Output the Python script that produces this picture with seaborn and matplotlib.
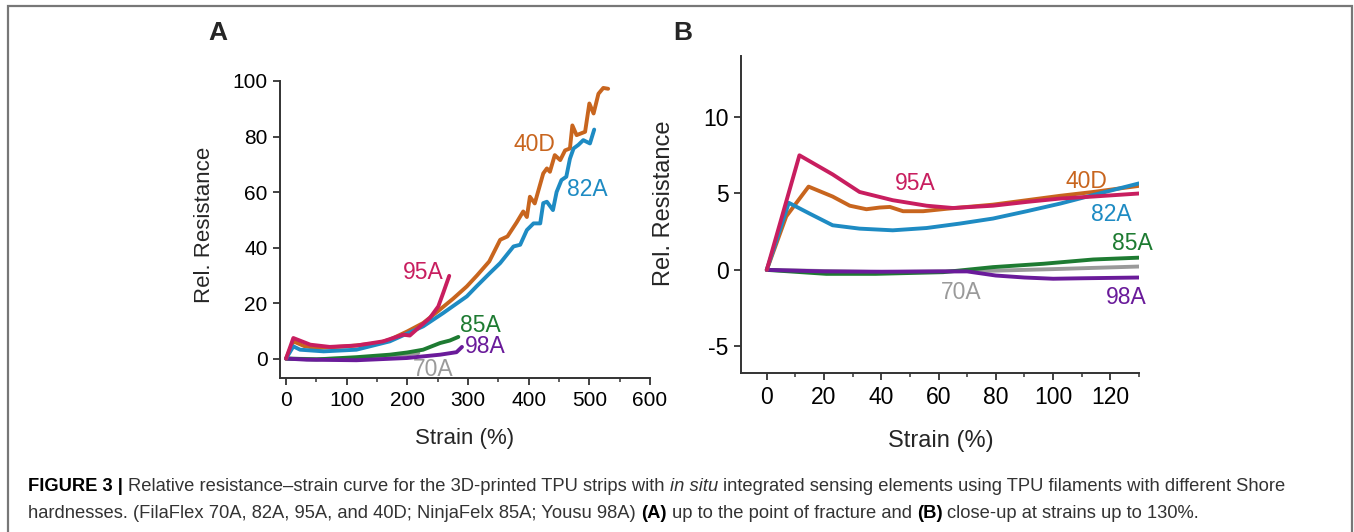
import matplotlib
matplotlib.use("Agg")
import matplotlib.pyplot as plt
from matplotlib.patches import Rectangle
from matplotlib.ticker import MultipleLocator
import seaborn as sns

# ---- panel A: up to fracture ----
a_40d_x = [0, 12, 30, 50, 100, 150, 171, 200, 226, 250, 275, 298, 315, 335, 353, 365, 380, 391, 397, 402, 410, 424, 430, 435, 443, 452, 460, 468, 472, 479, 493, 500, 507, 515, 523, 531]
a_40d_y = [0, 6.2, 4.5, 3.8, 4.4, 5.5, 6.8, 9.8, 12.8, 17, 21.5, 26, 30, 35, 42.8, 44, 49, 53, 51, 58.3, 55.9, 66.7, 68.5, 67.3, 73.3, 71.5, 75, 75.7, 84, 80.5, 81.7, 91.9, 88.3, 95.4, 97.5, 97.2]
a_82a_x = [0, 12, 23, 62, 116, 171, 226, 259, 298, 314, 336, 353, 375, 386, 397, 408, 419, 424, 430, 440, 446, 454, 462, 468, 474, 482, 490, 501, 508]
a_82a_y = [0, 4.4, 3.2, 2.6, 3.2, 6.2, 11.6, 16.4, 22.4, 26, 30.8, 34.4, 40.4, 41, 46.3, 48.7, 48.7, 56, 56.5, 53.5, 60, 64.3, 65.5, 72, 75.7, 77, 78.7, 77.5, 82.5]
a_95a_x = [0, 12, 40, 72, 116, 160, 193, 204, 221, 237, 251, 259, 269]
a_95a_y = [0, 7.4, 5, 4.2, 4.7, 6.2, 8.6, 8.3, 11.6, 14.6, 18.8, 23.6, 29.8]
a_85a_x = [0, 50, 116, 171, 200, 226, 254, 270, 284]
a_85a_y = [0, -0.3, 0.5, 1.4, 2.2, 3.2, 5.6, 6.5, 7.8]
a_98a_x = [0, 34, 116, 199, 254, 281, 290]
a_98a_y = [0, -0.4, -0.6, 0.2, 1.4, 2.3, 4.2]
a_70a_x = [0, 50, 100, 150, 200, 218]
a_70a_y = [0, -0.2, 0, 0.6, 1.5, 2.0]

# ---- panel B: close-up up to 130 % ----
b_95a_x = [0, 11.4, 23, 32.4, 44, 55.8, 65, 79, 90.8, 102.5, 114, 130]
b_95a_y = [0, 7.5, 6.25, 5.1, 4.56, 4.2, 4.05, 4.2, 4.45, 4.67, 4.8, 5.0]
b_40d_x = [0, 6.8, 14.6, 23, 29, 34.8, 39.4, 43, 47.6, 54.6, 62.8, 79, 90.8, 102.5, 114, 130]
b_40d_y = [0, 3.5, 5.45, 4.8, 4.2, 3.97, 4.08, 4.12, 3.84, 3.84, 4.0, 4.27, 4.56, 4.85, 5.1, 5.5]
b_82a_x = [0, 7.7, 15, 23, 32.4, 44, 55.8, 67.4, 79, 90.8, 102.5, 114, 130]
b_82a_y = [0, 4.39, 3.68, 2.92, 2.7, 2.59, 2.74, 3.03, 3.36, 3.84, 4.34, 4.9, 5.66]
b_85a_x = [0, 20.8, 38, 61.6, 79, 96.6, 114, 130]
b_85a_y = [0, -0.26, -0.26, -0.15, 0.18, 0.4, 0.68, 0.8]
b_70a_x = [0, 40, 80, 100, 130]
b_70a_y = [0, -0.15, -0.05, 0.05, 0.22]
b_98a_x = [0, 20, 40, 60, 70, 80, 90, 100, 110, 130]
b_98a_y = [0, -0.1, -0.12, -0.1, -0.1, -0.37, -0.5, -0.58, -0.55, -0.5]

colors = {"40D": "#c8651e", "82A": "#1e8bc3", "95A": "#c81e5f",
          "85A": "#1e7b32", "98A": "#6a1b9a", "70A": "#9a9a9a"}

series_a = [("70A", a_70a_x, a_70a_y), ("85A", a_85a_x, a_85a_y), ("98A", a_98a_x, a_98a_y),
            ("40D", a_40d_x, a_40d_y), ("82A", a_82a_x, a_82a_y), ("95A", a_95a_x, a_95a_y)]
series_b = [("70A", b_70a_x, b_70a_y), ("85A", b_85a_x, b_85a_y), ("98A", b_98a_x, b_98a_y),
            ("40D", b_40d_x, b_40d_y), ("82A", b_82a_x, b_82a_y), ("95A", b_95a_x, b_95a_y)]

# where the curve names sit (data coords)
labels_a = {"40D": (410, 77), "82A": (496, 61), "95A": (226, 31),
            "85A": (320, 12), "98A": (328, 4.2), "70A": (243, -4)}
labels_b = {"95A": (52, 5.65), "40D": (111.5, 5.8), "82A": (120.5, 3.6),
            "85A": (127.6, 1.7), "70A": (68, -1.47), "98A": (125.5, -1.84)}

sns.set_style("ticks")
plt.rcParams["font.family"] = ["Liberation Sans", "DejaVu Sans"]
plt.rcParams["axes.unicode_minus"] = False

W, H = 1354, 532
fig = plt.figure(figsize=(W / 100, H / 100), dpi=100)

def px_axes(left, top, right, bottom):
    return fig.add_axes([left / W, 1 - bottom / H, (right - left) / W, (bottom - top) / H])

ax_a = px_axes(280, 81, 650, 378)
ax_b = px_axes(741, 56, 1139, 373)

for ax, series in ((ax_a, series_a), (ax_b, series_b)):
    for name, xs, ys in series:
        sns.lineplot(x=xs, y=ys, ax=ax, color=colors[name], linewidth=2.8,
                     sort=False, estimator=None)

def style_axes(ax, tick_fs):
    for side in ("top", "right"):
        ax.spines[side].set_visible(False)
    for side in ("left", "bottom"):
        ax.spines[side].set_color("#333333")
        ax.spines[side].set_linewidth(1.4)
    ax.tick_params(which="major", direction="out", length=5, width=1.3,
                   color="#333333", labelsize=tick_fs, labelcolor="black", pad=4)
    ax.tick_params(which="minor", direction="out", length=3, width=1.1, color="#333333")
    ax.tick_params(axis="y", which="minor", length=0)

# panel A
ax_a.set_xlim(-10, 600)
ax_a.set_ylim(-7, 100)
ax_a.xaxis.set_major_locator(MultipleLocator(100))
ax_a.xaxis.set_minor_locator(MultipleLocator(50))
ax_a.yaxis.set_major_locator(MultipleLocator(20))
style_axes(ax_a, 15)
ax_a.set_xlabel("Strain (%)", fontsize=16)
ax_a.set_ylabel("Rel. Resistance", fontsize=16)
ax_a.xaxis.set_label_coords(0.5, -0.168)
ax_a.yaxis.set_label_coords(-0.176, 0.515)
for name, (lx, ly) in labels_a.items():
    ax_a.text(lx, ly, name, color=colors[name], fontsize=16.5, ha="center", va="center",
              clip_on=True)

# panel B
ax_b.set_xlim(-9, 130)
ax_b.set_ylim(-6.75, 14)
ax_b.xaxis.set_major_locator(MultipleLocator(20))
ax_b.xaxis.set_minor_locator(MultipleLocator(10))
ax_b.set_yticks([-5, 0, 5, 10])
style_axes(ax_b, 16.5)
ax_b.set_xlabel("Strain (%)", fontsize=17)
ax_b.set_ylabel("Rel. Resistance", fontsize=17)
ax_b.xaxis.set_label_coords(0.502, -0.18)
ax_b.yaxis.set_label_coords(-0.166, 0.536)
for name, (lx, ly) in labels_b.items():
    ax_b.text(lx, ly, name, color=colors[name], fontsize=16.5, ha="center", va="center",
              clip_on=False)

# panel letters
fig.text(218 / W, 1 - 33 / H, "A", fontsize=19, fontweight="bold", ha="center", va="center")
fig.text(683 / W, 1 - 33 / H, "B", fontsize=19, fontweight="bold", ha="center", va="center")

# frame around the figure
fig.patches.append(Rectangle((8 / W, -0.05), (1352 - 8) / W, 1 - 6 / H + 0.05,
                             transform=fig.transFigure, fill=False,
                             edgecolor="#777777", linewidth=1.6))

# caption, written piece by piece so bold / italic parts line up
cap_fs = 13.2
renderer = fig.canvas.get_renderer()

def text_width(s, **kw):
    t = fig.text(0, 0, s, fontsize=cap_fs, **kw)
    w = t.get_window_extent(renderer).width
    t.remove()
    return w

space_w = text_width("a a") - text_width("aa")

def caption_line(y_px, parts):
    x = 28
    for s, weight, style, col in parts:
        lead = len(s) - len(s.lstrip(" "))
        x += lead * space_w
        core = s.strip(" ")
        t = fig.text(x / W, 1 - y_px / H, core, fontsize=cap_fs, fontweight=weight,
                     fontstyle=style, color=col, ha="left", va="baseline")
        x += t.get_window_extent(renderer).width
        x += (len(s) - len(s.rstrip(" "))) * space_w

body = "#333333"
caption_line(491, [
    ("FIGURE 3 |", "bold", "normal", "black"),
    (" Relative resistance\u2013strain curve for the 3D-printed TPU strips with ", "normal", "normal", body),
    ("in situ", "normal", "italic", body),
    (" integrated sensing elements using TPU filaments with different Shore", "normal", "normal", body),
])
caption_line(518, [
    ("hardnesses. (FilaFlex 70A, 82A, 95A, and 40D; NinjaFelx 85A; Yousu 98A) ", "normal", "normal", body),
    ("(A)", "bold", "normal", "black"),
    (" up to the point of fracture and ", "normal", "normal", body),
    ("(B)", "bold", "normal", "black"),
    (" close-up at strains up to 130%.", "normal", "normal", body),
])

fig.savefig("out.png", dpi=100)
